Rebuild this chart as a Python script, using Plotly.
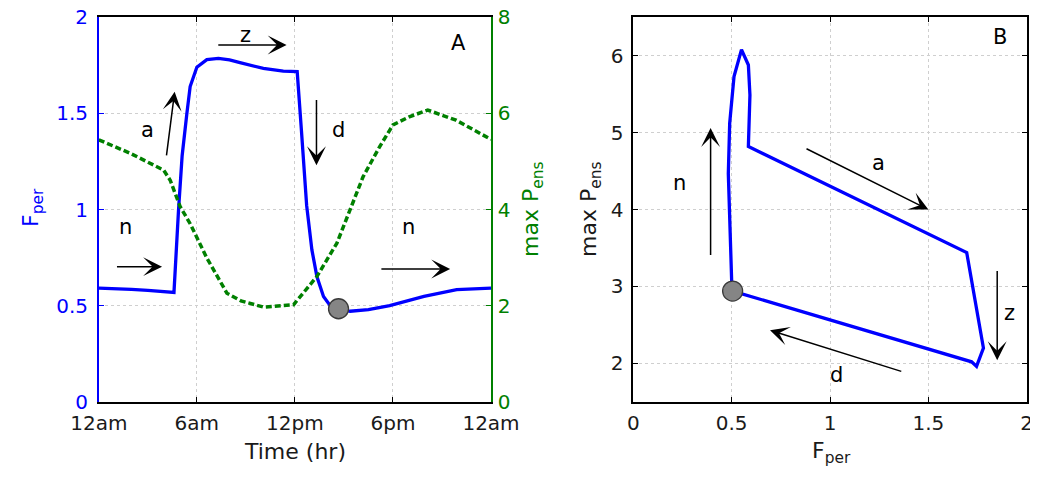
import plotly.graph_objects as go

# ---------------- data ----------------
# Panel A: time (hr) vs F_per (blue) and max P_ens (green)
t_fper = [0, 1, 2, 3, 4, 4.6, 4.88, 5.1, 5.39, 5.59, 6.0, 6.61, 7.32, 8.0, 8.64, 9.4,
          10.07, 11.29, 12.14, 12.4, 12.6, 12.72, 13.04, 13.35, 13.75, 14.16, 14.67,
          15.38, 16.5, 17.8, 19.9, 21.9, 24]
fper = [0.591, 0.589, 0.585, 0.58, 0.574, 0.569, 1.0, 1.28, 1.5, 1.64, 1.74, 1.78, 1.786,
        1.778, 1.764, 1.748, 1.734, 1.72, 1.717, 1.41, 1.15, 1.02, 0.79, 0.65, 0.548, 0.5,
        0.484, 0.471, 0.48, 0.5, 0.548, 0.583, 0.591]

t_pens = [0, 1.93, 3.97, 4.37, 4.98, 5.6, 6.6, 7.84, 8.7, 10.08, 11.92, 12.6, 13.35, 14.57,
          15.59, 16.17, 17.19, 18.0, 19.0, 20.13, 21.86, 24]
pens = [5.45, 5.17, 4.82, 4.61, 4.06, 3.7, 3.0, 2.26, 2.1, 1.97, 2.02, 2.3, 2.61, 3.30,
        4.19, 4.68, 5.31, 5.76, 5.93, 6.07, 5.86, 5.46]

marker_t = [14.67]
marker_fper = [0.484]

time_ticks = [0, 6, 12, 18, 24]
time_labels = ["12am", "6am", "12pm", "6pm", "12am"]

# Panel B: phase loop F_per vs max P_ens
loop_fper = [0.505, 0.5, 0.483, 0.49, 0.512, 0.55, 0.585, 0.593, 0.585, 1.695, 1.78,
             1.745, 1.72, 0.542, 0.505]
loop_pens = [2.94, 3.08, 4.47, 5.12, 5.73, 6.08, 5.88, 5.49, 4.82, 3.44, 2.2, 1.96, 2.02,
             2.91, 2.94]
marker_b_fper = [0.505]
marker_b_pens = [2.94]

# ---------------- styling ----------------
BLUE = "#0000ff"
GREEN = "#008000"
GRID = "#cfcfcf"
FONT = "DejaVu Sans"
TICK_SIZE = 20
LABEL_SIZE = 21
OFF = 8  # page body margin
W, H = 1038 - OFF, 477 - 2 * OFF


def px_x(p):
    return (p - OFF) / W


def px_y(p):
    return 1 - (p - OFF) / H


fig = go.Figure()

fig.add_trace(go.Scatter(x=t_fper, y=fper, mode="lines",
                         line=dict(color=BLUE, width=3.3), xaxis="x", yaxis="y",
                         showlegend=False, hoverinfo="skip"))
fig.add_trace(go.Scatter(x=t_pens, y=pens, mode="lines",
                         line=dict(color=GREEN, width=3.5, dash="6px,3px"),
                         xaxis="x", yaxis="y2", showlegend=False, hoverinfo="skip"))
fig.add_trace(go.Scatter(x=marker_t, y=marker_fper, mode="markers",
                         marker=dict(size=20, color="#858585",
                                     line=dict(color="#3a3a3a", width=1.3)),
                         xaxis="x", yaxis="y", showlegend=False, hoverinfo="skip"))

fig.add_trace(go.Scatter(x=loop_fper, y=loop_pens, mode="lines",
                         line=dict(color=BLUE, width=3.3), xaxis="x2", yaxis="y3",
                         showlegend=False, hoverinfo="skip"))
fig.add_trace(go.Scatter(x=marker_b_fper, y=marker_b_pens, mode="markers",
                         marker=dict(size=20, color="#858585",
                                     line=dict(color="#3a3a3a", width=1.3)),
                         xaxis="x2", yaxis="y3", showlegend=False, hoverinfo="skip"))

common = dict(showgrid=True, gridcolor=GRID, griddash="dot", gridwidth=1,
              zeroline=False, showline=True, linewidth=1.5, ticks="inside",
              ticklen=5, tickwidth=1, automargin=False, ticklabeloverflow="allow")

LD = [px_x(98.8), px_x(491)]
RD = [px_x(633.3), px_x(1026.7)]
YD = [px_y(401.8), px_y(17.3)]

fig.update_layout(
    width=W, height=H,
    margin=dict(l=0, r=0, t=0, b=0),
    paper_bgcolor="white", plot_bgcolor="white",
    font=dict(family=FONT, color="black", size=TICK_SIZE),
    xaxis=dict(domain=LD, anchor="y", range=[0, 24], tickvals=time_ticks,
               ticktext=time_labels, linecolor="black", mirror="ticks",
               tickcolor="black", tickfont=dict(family=FONT, size=TICK_SIZE, color="#1a1a1a"),
               ticklabelstandoff=2, **common),
    yaxis=dict(domain=YD, anchor="x", range=[0, 2], tickvals=[0, 0.5, 1, 1.5, 2],
               ticktext=["0", "0.5", "1", "1.5", "2"], linecolor=BLUE, tickcolor=BLUE,
               tickfont=dict(family=FONT, size=TICK_SIZE, color=BLUE), ticklabelstandoff=5,
               **common),
    yaxis2=dict(overlaying="y", side="right", anchor="x", range=[0, 8],
                tickvals=[0, 2, 4, 6, 8], showgrid=False, zeroline=False, showline=True,
                linewidth=1.5, linecolor=GREEN, ticks="inside", ticklen=5, tickcolor=GREEN,
                automargin=False, ticklabeloverflow="allow",
                tickfont=dict(family=FONT, size=TICK_SIZE, color=GREEN), ticklabelstandoff=1),
    xaxis2=dict(domain=RD, anchor="y3", range=[0, 2], tickvals=[0, 0.5, 1, 1.5, 2],
                ticktext=["0", "0.5", "1", "1.5", "2"], linecolor="black", mirror="ticks",
                tickcolor="black", tickfont=dict(family=FONT, size=TICK_SIZE, color="#1a1a1a"),
                ticklabelstandoff=2, **common),
    yaxis3=dict(domain=YD, anchor="x2", range=[1.5, 6.5], tickvals=[2, 3, 4, 5, 6],
                linecolor="black", mirror="ticks", tickcolor="black",
                tickfont=dict(family=FONT, size=TICK_SIZE, color="#1a1a1a"), ticklabelstandoff=4,
                **common),
)

ann = []


def arrow(xh, yh, xt, yt, xr, yr):
    ann.append(dict(x=xh, y=yh, ax=xt, ay=yt, xref=xr, yref=yr, axref=xr, ayref=yr,
                    showarrow=True, arrowhead=3, arrowsize=2.1, arrowwidth=1.5,
                    arrowcolor="black", text=""))


def label(x, y, s, xr, yr, size=LABEL_SIZE):
    ann.append(dict(x=x, y=y, xref=xr, yref=yr, text=s, showarrow=False,
                    font=dict(family=FONT, size=size, color="black")))


# Panel A arrows and labels
arrow(3.87, 0.703, 1.02, 0.703, "x", "y")
arrow(21.5, 0.691, 17.2, 0.691, "x", "y")
arrow(4.64, 1.613, 4.13, 1.274, "x", "y")
arrow(11.49, 1.856, 7.22, 1.856, "x", "y")
arrow(13.32, 1.231, 13.32, 1.578, "x", "y")
label(1.63, 0.91, "n", "x", "y")
label(18.95, 0.91, "n", "x", "y")
label(2.99, 1.413, "a", "x", "y")
label(8.95, 1.908, "z", "x", "y")
label(14.64, 1.413, "d", "x", "y")
label(22.03, 1.865, "A", "x", "y")

# Panel B arrows and labels
arrow(0.393, 5.06, 0.393, 3.39, "x2", "y3")
arrow(1.5, 4.0, 0.873, 4.80, "x2", "y3")
arrow(1.85, 2.04, 1.85, 3.22, "x2", "y3")
arrow(0.695, 2.43, 1.37, 1.89, "x2", "y3")
label(0.237, 4.34, "n", "x2", "y3")
label(1.246, 4.6, "a", "x2", "y3")
label(1.915, 2.65, "z", "x2", "y3")
label(1.034, 1.85, "d", "x2", "y3")
label(1.864, 6.25, "B", "x2", "y3")


# Axis titles (placed in page pixels)
def ptitle(px, py, s, color, angle=0, size=22):
    ann.append(dict(x=px_x(px), y=px_y(py), xref="paper", yref="paper", text=s,
                    showarrow=False, textangle=angle, xanchor="center", yanchor="middle",
                    font=dict(family=FONT, size=size, color=color)))


ptitle(32, 208, "F<sub>per</sub>", BLUE, -90)
ptitle(532, 210, "max P<sub>ens</sub>", GREEN, -90)
ptitle(295, 451, "Time (hr)", "#1a1a1a")
ptitle(590, 210, "max P<sub>ens</sub>", "#1a1a1a", -90)
ptitle(831, 452, "F<sub>per</sub>", "#1a1a1a")

fig.update_layout(annotations=ann)

fig.write_html("out.html")
